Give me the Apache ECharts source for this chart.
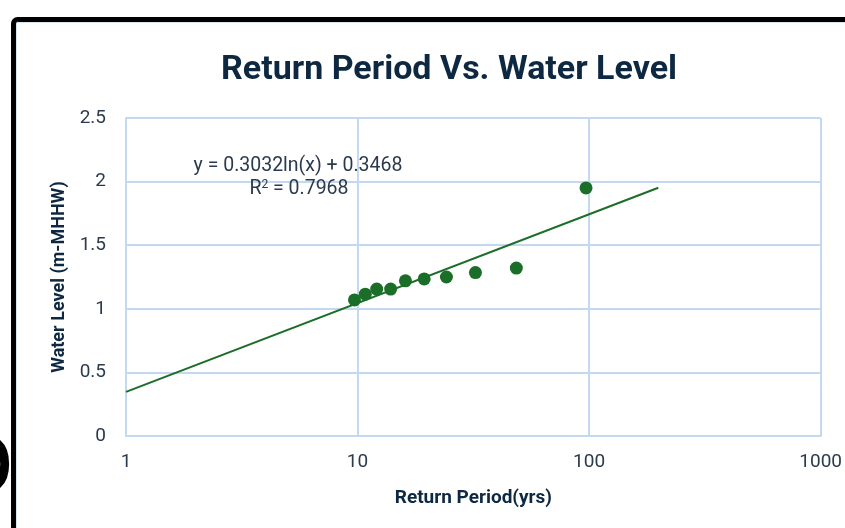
<!DOCTYPE html>
<html>
<head>
<meta charset="utf-8">
<script src="https://cdn.jsdelivr.net/npm/echarts@6/dist/echarts.min.js"></script>
<style>
  html, body { margin: 0; padding: 0; background: #fff; }
  #main { width: 845px; height: 528px; }
</style>
</head>
<body>
<div id="main"></div>
<script>
// return period (yrs) and water level (m-MHHW)
var returnPeriod = [9.7, 10.8, 12.1, 13.9, 16.1, 19.4, 24.2, 32.3, 48.5, 97];
var waterLevel = [1.07, 1.115, 1.155, 1.155, 1.22, 1.235, 1.25, 1.285, 1.32, 1.95];
// log trendline ends (straight on a log axis)
var trendX = [1, 199];
var trendY = [0.347, 1.952];
var xTicks = ["1", "10", "100", "1000"];
var yTicks = ["0", "0.5", "1", "1.5", "2", "2.5"];

var points = returnPeriod.map(function (x, i) { return [x, waterLevel[i]]; });
var trend = trendX.map(function (x, i) { return [x, trendY[i]]; });

var navy = "#0e2841";
var gridBlue = "#c3d8f1";
var green = "#1b6e28";
var font = "Roboto, 'Noto Sans', sans-serif";

var myChart = echarts.init(document.getElementById("main"));
myChart.setOption({
  animation: false,
  title: {
    text: "Return Period Vs. Water Level",
    left: 216,
    top: 48,
    textStyle: {
      fontFamily: font,
      fontSize: 34,
      fontWeight: "bold",
      color: navy,
    },
  },
  grid: {
    left: 126,
    right: 21,
    top: 118,
    bottom: 92,
  },
  xAxis: {
    type: "log",
    logBase: 10,
    min: 1,
    max: 1000,
    name: "Return Period(yrs)",
    nameLocation: "middle",
    nameGap: 53,
    nameTextStyle: {
      fontFamily: font,
      fontSize: 19,
      fontWeight: "bold",
      color: navy,
    },
    axisLine: { show: true, lineStyle: { color: gridBlue, width: 2 } },
    axisTick: { show: false },
    minorTick: { show: false },
    splitLine: { show: true, lineStyle: { color: gridBlue, width: 2 } },
    axisLabel: {
      margin: 17,
      fontFamily: font,
      fontSize: 19,
      color: "#2b3a4d",
      formatter: function (v) {
        var idx = Math.round(Math.log10(v));
        return xTicks[idx];
      },
    },
  },
  yAxis: {
    type: "value",
    min: 0,
    max: 2.5,
    interval: 0.5,
    name: "Water Level (m-MHHW)",
    nameLocation: "middle",
    nameGap: 56,
    nameTextStyle: {
      fontFamily: font,
      fontSize: 18,
      fontWeight: "bold",
      color: navy,
    },
    axisLine: { show: true, lineStyle: { color: gridBlue, width: 2 } },
    axisTick: { show: false },
    splitLine: { show: true, lineStyle: { color: gridBlue, width: 2 } },
    axisLabel: {
      margin: 20,
      fontFamily: font,
      fontSize: 19,
      color: "#2b3a4d",
      formatter: function (v) {
        return yTicks[Math.round(v / 0.5)];
      },
    },
  },
  graphic: [
    {
      // light chart-area border
      type: "rect",
      shape: { x: 16.5, y: 22.5, width: 900, height: 600 },
      style: { fill: "none", stroke: "#d5e3f3", lineWidth: 1 },
      silent: true,
    },
    {
      // black screenshot frame
      type: "rect",
      shape: { x: 13.5, y: 19.5, width: 900, height: 600, r: 4 },
      style: { fill: "none", stroke: "#000", lineWidth: 5 },
      silent: true,
    },
    {
      type: "text",
      left: -52,
      top: 430,
      style: {
        text: "D",
        fontFamily: "'DejaVu Sans', sans-serif",
        fontSize: 86,
        fill: "#000",
      },
      silent: true,
    },
    {
      type: "text",
      x: 298,
      y: 166,
      style: {
        text: "y = 0.3032ln(x) + 0.3468",
        fontFamily: font,
        fontSize: 19.5,
        fill: "#2b3a4d",
        align: "center",
        verticalAlign: "middle",
      },
      z: 10,
    },
    {
      type: "text",
      x: 299,
      y: 189,
      style: {
        text: "R{s|2} = 0.7968",
        fontFamily: font,
        fontSize: 19.5,
        fill: "#2b3a4d",
        align: "center",
        verticalAlign: "middle",
        rich: {
          s: {
            fontFamily: font,
            fontSize: 12,
            fill: "#2b3a4d",
            verticalAlign: "top",
            padding: [0, 0, 9, 0],
          },
        },
      },
      z: 10,
    },
  ],
  series: [
    {
      type: "line",
      data: trend,
      symbol: "none",
      lineStyle: { color: green, width: 2 },
      z: 2,
    },
    {
      type: "scatter",
      data: points,
      symbol: "circle",
      symbolSize: 13,
      itemStyle: { color: green, opacity: 1 },
      z: 3,
    },
  ],
});
</script>
</body>
</html>
